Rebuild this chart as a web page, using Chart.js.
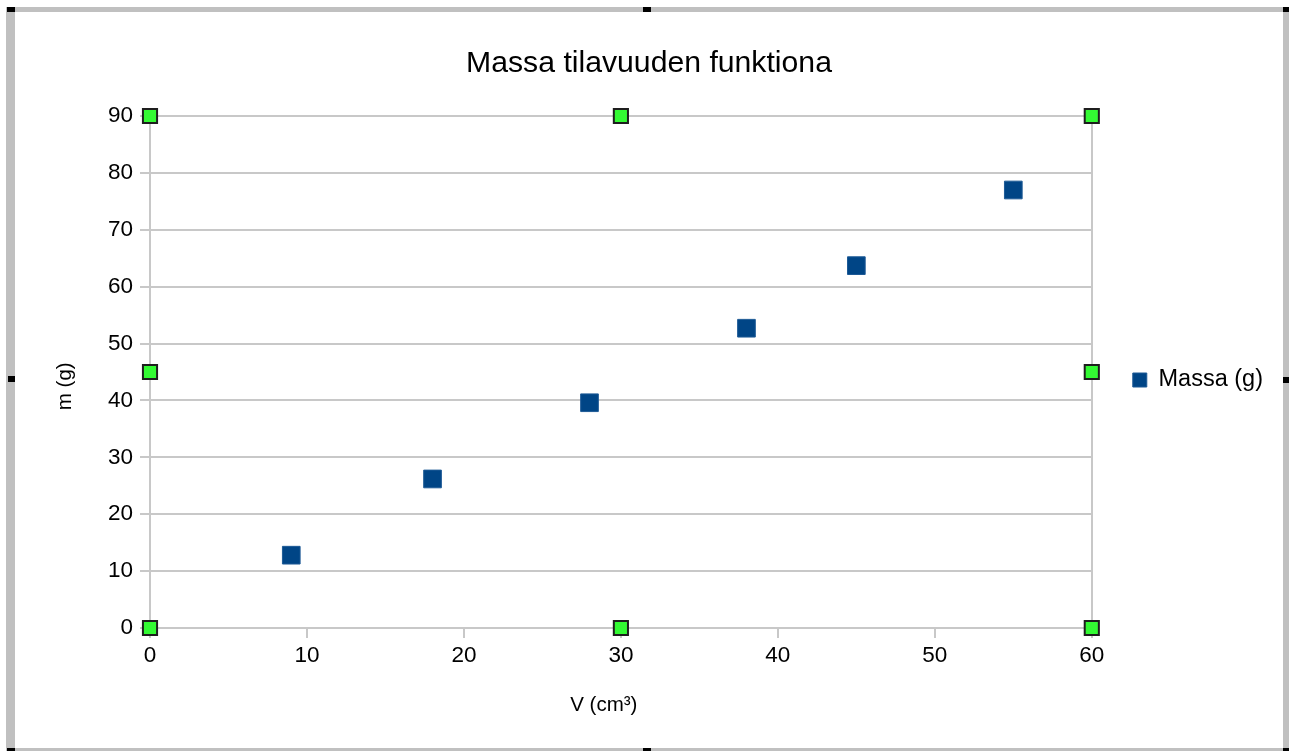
<!DOCTYPE html>
<html lang="fi">
<head>
<meta charset="utf-8">
<title>Massa tilavuuden funktiona</title>
<script src="https://cdn.jsdelivr.net/npm/chart.js@4/dist/chart.umd.min.js"></script>
<style>
    html, body { margin: 0; padding: 0; background: #fff; }
    #wrap { position: relative; width: 1289px; height: 751px; overflow: hidden; }
    #mass-chart { position: absolute; left: 0; top: 0; }
    .bar { position: absolute; background: #c0c0c0; }
    .knob { position: absolute; background: #000; }
</style>
</head>
<body>
<div id="wrap">
    <canvas id="mass-chart" width="1289" height="751"></canvas>
    <div class="bar" style="left:6px;top:7px;width:9px;height:744px"></div>
    <div class="bar" style="left:6px;top:7px;width:1283px;height:5px"></div>
    <div class="bar" style="left:1283px;top:7px;width:6px;height:744px"></div>
    <div class="bar" style="left:6px;top:748px;width:1283px;height:3px"></div>
    <div class="knob" style="left:7px;top:7px;width:8px;height:5px"></div>
    <div class="knob" style="left:643px;top:7px;width:8px;height:5px"></div>
    <div class="knob" style="left:1283px;top:7px;width:6px;height:5px"></div>
    <div class="knob" style="left:8px;top:376px;width:7px;height:6px"></div>
    <div class="knob" style="left:1283px;top:377px;width:6px;height:6px"></div>
    <div class="knob" style="left:7px;top:748px;width:8px;height:3px"></div>
    <div class="knob" style="left:643px;top:748px;width:8px;height:3px"></div>
    <div class="knob" style="left:1283px;top:748px;width:6px;height:3px"></div>
</div>
<script>
// mitatut arvot
const volumes = [9, 18, 28, 38, 45, 55];
const masses = [12.8, 26.2, 39.6, 52.7, 63.7, 77.0];

const xTicks = [0, 10, 20, 30, 40, 50, 60];
const yTicks = [0, 10, 20, 30, 40, 50, 60, 70, 80, 90];

// valintakahvat kaavioalueen reunoilla
const handleX = [0, 30, 60, 0, 60, 0, 30, 60];
const handleY = [90, 90, 90, 45, 45, 0, 0, 0];

const GRID = '#c8c8c8';
const SERIES = '#004586';
// akselien otsikot eivät ole aivan keskellä alkuperäisessä
const NBSP = '\u00a0';

Chart.defaults.font.family = "'Liberation Sans', Arial, sans-serif";
Chart.defaults.color = '#000';

document.addEventListener('DOMContentLoaded', function () {
    const ctx = document.getElementById('mass-chart').getContext('2d');

    new Chart(ctx, {
        type: 'scatter',
        data: {
            datasets: [{
                label: 'handles',
                data: handleX.map((x, i) => ({ x: x, y: handleY[i] })),
                pointStyle: 'rect',
                pointRadius: 10,
                pointHoverRadius: 10,
                backgroundColor: '#33fa33',
                borderColor: '#1e1e1e',
                borderWidth: 2,
                clip: false
            }, {
                label: 'Massa (g)',
                data: volumes.map((v, i) => ({ x: v, y: masses[i] })),
                pointStyle: 'rect',
                pointRadius: 12.5,
                pointHoverRadius: 12.5,
                backgroundColor: SERIES,
                borderColor: '#1d5a96',
                borderWidth: 1
            }]
        },
        options: {
            responsive: false,
            animation: false,
            devicePixelRatio: 1,
            layout: { padding: { left: 25, top: 12, right: 16, bottom: 3 } },
            plugins: {
                title: {
                    display: true,
                    text: 'Massa tilavuuden funktiona',
                    color: '#000',
                    font: { size: 30.2, weight: 'normal' },
                    padding: { top: 34, bottom: 33.8 }
                },
                legend: {
                    position: 'right',
                    labels: {
                        boxWidth: 14,
                        boxHeight: 14,
                        padding: 41,
                        color: '#000',
                        font: { size: 23.5 },
                        filter: item => item.text !== 'handles'
                    }
                },
                tooltip: { enabled: false }
            },
            scales: {
                x: {
                    type: 'linear',
                    min: 0,
                    max: 60,
                    afterBuildTicks: scale => { scale.ticks = xTicks.map(v => ({ value: v })); },
                    afterFit: scale => { scale.height = 120; },
                    ticks: { font: { size: 22.5 }, padding: 4, color: '#000' },
                    grid: {
                        color: c => (c.tick && (c.tick.value === 0 || c.tick.value === 60)) ? GRID : 'rgba(0,0,0,0)',
                        tickColor: GRID,
                        lineWidth: 2,
                        tickLength: 10
                    },
                    border: { color: GRID, width: 2 },
                    title: {
                        display: true,
                        text: 'V (cm³)' + NBSP.repeat(6),
                        color: '#000',
                        font: { size: 20.5 },
                        padding: { top: 0, bottom: 30 }
                    }
                },
                y: {
                    type: 'linear',
                    min: 0,
                    max: 90,
                    afterBuildTicks: scale => { scale.ticks = yTicks.map(v => ({ value: v })); },
                    afterFit: scale => { scale.width = 125; },
                    ticks: { font: { size: 22.5 }, padding: 7, color: '#000' },
                    grid: {
                        color: GRID,
                        lineWidth: 2,
                        tickLength: 10
                    },
                    border: { color: GRID, width: 2 },
                    title: {
                        display: true,
                        text: 'm (g)' + NBSP.repeat(5),
                        color: '#000',
                        font: { size: 20.5 },
                        padding: { top: 28, bottom: 0 }
                    }
                }
            }
        }
    });
});
</script>
</body>
</html>
